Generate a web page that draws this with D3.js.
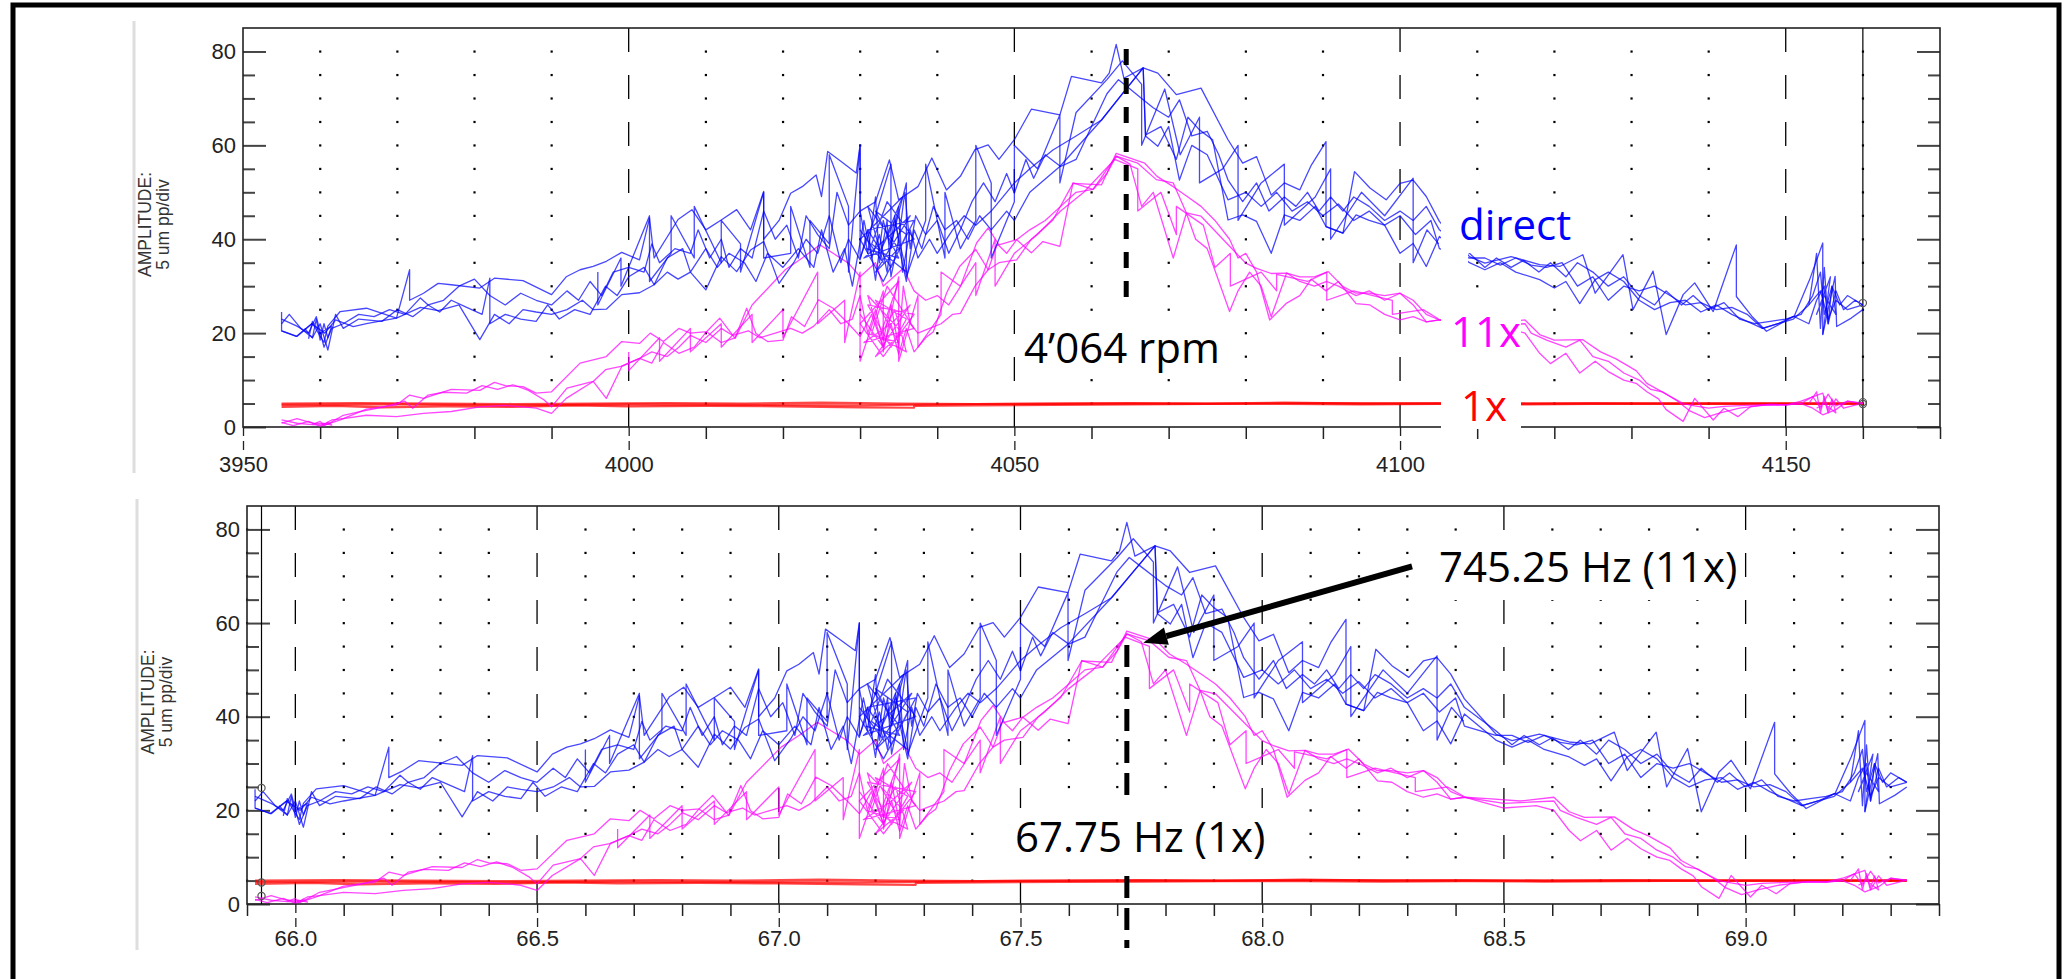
<!DOCTYPE html>
<html>
<head>
<meta charset="utf-8">
<script src="https://cdn.jsdelivr.net/npm/d3@7"></script>
<style>
  body { margin: 0; background: #fff; }
  svg { display: block; }
  .tick text { font-family: "Liberation Sans", Arial, sans-serif; font-size: 22px; fill: #222; }
  .ytitle { font-family: "Liberation Sans", Arial, sans-serif; font-size: 17.5px; fill: #333; }
  .note { font-family: "Open Sans", sans-serif; font-size: 42px; }
</style>
</head>
<body>
<svg id="chart" width="2065" height="979"></svg>
<script>
// axis ticks / domains
const ampTicks = [0, 20, 40, 60, 80];
const rpmTicks = [3950, 4000, 4050, 4100, 4150];
const hzTicks = [66.0, 66.5, 67.0, 67.5, 68.0, 68.5, 69.0];
const ampDomain = [0, 85];
const rpmDomain = [3950, 4170];
const hzDomain = [65.9, 69.4];

// cursors (end of sweep on top, start of sweep on bottom)
const rpmCursor = 4160;
const rpmCursorVals = [26.4, 5.3, 4.9];
const hzCursor = 65.93;
const hzCursorVals = [24.8, 4.6, 1.7];

// annotation values
const rpmMark = 4064.5;
const hzMark = 67.72;
const arrowFrom = [68.31, 72.1];
const arrowTo = [67.754, 55.8];

// traces: [rpm, amplitude]
const blue1 = [[3955,24.5],[3955,20.5],[3957,19.3],[3959,22.1],[3960.5,18],[3961,21.5],[3962.6,24.6],[3966,25.3],[3969.9,23.2],[3971.6,33.5],[3971.6,27],[3973.4,28.5],[3975.3,30.6],[3977,30.3],[3980.7,29.6],[3982.6,31.7],[3986.3,31.2],[3990,28.2],[3991.9,32],[3993.7,33.5],[3995.4,34.2],[3997.1,35.3],[3999.1,37.2],[4001.4,35.6],[4002.7,44.5],[4003.3,36],[4006.4,44.2],[4008.2,46.3],[4010,42],[4012,44.1],[4014,46.3],[4015.8,42],[4017.5,50.2],[4017.5,40],[4019.5,44],[4021,49.8],[4022.5,51.2],[4024.3,53.7],[4025,49.1],[4025.8,58.7],[4027.5,56.6],[4029.5,54.1],[4030,60.1],[4030,46],[4032,48],[4033.8,56.9],[4035,48.4],[4037.5,51.2],[4039.3,57.3],[4041.2,50.5],[4043,53.4],[4044.9,59.1],[4046.6,60.1],[4048,57],[4050,61.2],[4052.2,67.7],[4055.9,66.5],[4057.4,74.7],[4061.3,73.3],[4062.3,75.4],[4063.2,81.5],[4064.2,74.3],[4066.7,76.5],[4068.6,75.4],[4071,70.8],[4074.2,72.2],[4077.7,61.2],[4079.6,56.2],[4081.4,57.6],[4083.3,49.4],[4085,52],[4087,50.5],[4088.5,55.8],[4090.4,60.8],[4090.4,42.7],[4092.6,41.3],[4094.1,54.4],[4096.1,50.9],[4098.2,48.4],[4100,51.9],[4101.7,52.6],[4103.4,49.1],[4105.1,43.8],[4109,36.3],[4111,34.9],[4114.4,36.3],[4118.1,34.6],[4120.7,34.2],[4123.7,36.7],[4125.3,28.5],[4128.9,36.7],[4130.2,25],[4132.8,33.2],[4134.5,19.7],[4136.7,28.2],[4138.2,30.7],[4140.6,24.6],[4143.6,38.8],[4143.6,27.8],[4145.6,23.6],[4147.5,20.4],[4151.1,23.6],[4153.1,31.4],[4154.8,39.2],[4154.8,19.7],[4156.4,32.1],[4156.6,21.4],[4158.5,23.2],[4160,25]];
const blue2 = [[3955,20.5],[3956.9,19.3],[3958.9,22],[3960.6,20],[3962,22.8],[3964.3,21.4],[3966,22],[3969.9,23.2],[3973,25.5],[3975.3,24.8],[3978,26],[3980.7,18.6],[3982.6,24],[3984.5,22],[3986.3,25],[3988,24.5],[3990,24],[3992,25],[3994,27],[3995.4,25],[3997.1,25.1],[3999.1,28.2],[4001.4,28.6],[4003.3,30.3],[4005,33],[4006.4,31.5],[4008,33],[4010,29.2],[4012,36.3],[4014,33.1],[4015.8,37.7],[4017.5,39.5],[4019.5,30.6],[4021.5,35.3],[4023,40],[4024.5,37],[4026,45],[4027.5,35],[4028.5,40],[4030,35.6],[4031,42],[4032,31.3],[4033,44],[4034,38],[4035,47],[4035.5,33],[4036.5,42],[4037.5,36],[4039,40],[4040,37],[4042,42],[4043.5,45],[4045,43],[4047,46],[4049,50],[4050,52],[4052,55],[4055,59],[4058,62],[4061.3,65.4],[4064,71],[4066.7,76.5],[4067,62.2],[4069,64],[4071,57],[4072.5,66],[4074,63.3],[4075.7,61.2],[4077.7,44.1],[4079.6,45.2],[4081.4,43.8],[4083.3,37],[4085,45.2],[4087,44],[4089,47],[4090.4,42.7],[4092.6,41.3],[4094.3,45.2],[4096,44],[4098,43],[4100,37],[4101.7,39.1],[4103.4,34.2],[4105.1,40.6],[4109,35],[4111,33.5],[4113,35],[4115,33],[4118.1,31.4],[4120,29.6],[4121.5,31],[4123.3,26.3],[4125.3,31.4],[4127,33],[4129,31],[4131,27],[4133,25],[4135,26.5],[4137,27],[4139,24.5],[4141,26],[4143,24],[4145,22.5],[4147,21],[4149,22],[4151,23],[4153,26],[4154.5,29],[4155.5,23],[4156.5,27],[4158,25],[4160,26]];
const blue3 = [[3955,23],[3957,21.5],[3958.5,20],[3959.5,23.5],[3960.5,17],[3961.5,21],[3963,22],[3965,24],[3967,23.5],[3969,25],[3971,24],[3973,27.5],[3974,26],[3976,27],[3978,30],[3980,31.5],[3982,28],[3984,26],[3986,28.5],[3988,27],[3990,26],[3992,29],[3993.5,27],[3995,31],[3996.5,28],[3998,33],[4000,34],[4002,33],[4003,39],[4004,35],[4006,38],[4008,37],[4009,42],[4010.5,36],[4012,40],[4013,34],[4014.5,38],[4016,36],[4017.5,46],[4019,40],[4020.5,43],[4022,36],[4023,45],[4024.5,41],[4026,38],[4027,50],[4028.5,43],[4030,46],[4031,37],[4032,49],[4032.5,35],[4033.5,44],[4034,32],[4035,40],[4035.8,50],[4036.5,38],[4037.2,45],[4038.5,41],[4040,44],[4041.5,37],[4043,42],[4044.5,48],[4046,52],[4047.5,48],[4049,54],[4050,49.8],[4051.5,57],[4052.5,53],[4054,58],[4056,55.5],[4058,57],[4060,64],[4062,71],[4063.5,74],[4065,72],[4066.5,70],[4068,68],[4070,66],[4071.4,69.7],[4073,62],[4075,63],[4076.5,58],[4077.7,52.6],[4079.6,48],[4081.4,52],[4083,46],[4085,49],[4086.5,47],[4088,50],[4089.5,46],[4091,49],[4092.6,46],[4094,49],[4096,47],[4098,44],[4100,46],[4101.7,44],[4103.4,47],[4105.1,42],[4109,37],[4111,34],[4112.5,36],[4114.4,34],[4116,35.5],[4118,33],[4119.5,35],[4121.5,32],[4123,35],[4125,33],[4127,30],[4129,32],[4131,28],[4133,26],[4134.5,29],[4136.5,26],[4138,28],[4140,25],[4142,26.5],[4144,23],[4146,22],[4148,22.5],[4150,23],[4152,24],[4153.5,28],[4154.5,33],[4155,24],[4156,30],[4157,26],[4158,28],[4160,26]];
const blue4 = [[3955,22],[3956,24],[3957.5,21],[3959,19],[3960,22],[3961,16.4],[3962,24],[3963,21],[3965,23],[3968,22.5],[3970,25],[3972,23.5],[3974,26],[3975.5,24.5],[3977,27],[3979,25.5],[3981,24],[3982,31.7],[3982,22],[3984,24],[3986,23],[3988,22.5],[3989.5,26],[3991,23],[3993,25],[3995,24],[3997,30],[3998.5,28],[4000,32],[4002,34],[4003.3,30.3],[4005,36],[4007,38],[4008,33],[4010,38],[4011.5,34],[4013,37],[4015,35],[4016.5,31],[4018,37],[4020,34],[4022,38],[4024,34],[4025,42],[4026.5,33],[4028,38],[4029,30],[4030.5,44],[4031.5,36],[4032.5,41],[4033.5,33],[4034.5,45],[4035.2,37],[4036,31],[4037,42],[4038,38],[4039.5,47],[4041,42],[4042.5,44],[4044,40],[4045.5,45],[4047,42],[4049,46],[4050,44],[4052,50],[4055.9,55.5],[4061.3,65.4],[4066.7,76.5],[4067,62],[4068.6,59.8],[4070,64],[4071.4,52.6],[4073,60],[4075,58],[4077.7,48.4],[4080,50],[4082,47],[4084,50],[4086,46],[4088,48],[4090,45],[4092,47.5],[4094,44],[4096,46],[4098,43],[4100,45],[4102,41],[4104,44],[4105.1,38],[4109,36],[4111,36],[4113,34.5],[4115,36],[4117,34.5],[4119,34],[4121,35],[4123,30],[4125,32],[4127,27],[4129,30],[4131,29],[4133,30],[4135,28],[4137,26],[4139,26.5],[4141,25],[4143,25.5],[4145,24],[4147,21],[4149,22],[4151,23.6],[4153,22],[4154,27],[4155,30],[4155.5,22],[4156.5,29],[4157.5,25],[4159,27],[4160,26]];
const blue5 = [[3996,33],[3996,26],[3999,36],[3999,30],[4002.7,45],[4002.7,31],[4005.5,37],[4005.5,45],[4008.5,36],[4008.5,47],[4012,35],[4012,44],[4014.5,39],[4014.5,33],[4017.5,50],[4017.5,36],[4021,37],[4021,47],[4023.5,34],[4023.5,44],[4026,39],[4026,58],[4028.5,47],[4028.5,33],[4030,60],[4030,36],[4032,45],[4034,56],[4034,39],[4036,52],[4036,32],[4038.5,44],[4038.5,56],[4041,36],[4041,50],[4043,38],[4045,44],[4045,60],[4047,52],[4047,36],[4050,48],[4050,60],[4053,55],[4055.9,66.5],[4055.9,52],[4058,67],[4062,74],[4064,78],[4066.5,73],[4066.5,60],[4069.5,72],[4071.5,58],[4074,66],[4074,52],[4077,55],[4079,60],[4079,44],[4082,52],[4085,56],[4085,43],[4089,49],[4091,55],[4091,40],[4095,50],[4098,45],[4101.7,53],[4101.7,35],[4103.5,42],[4105,39]];
const blueKnotA = [[3958,21],[3959,19],[3959.5,23],[3960,18.5],[3960.5,22],[3961,19],[3961.5,21.5],[3960,20],[3959,22.5],[3958.5,18.8]];
const blueKnotB = [[4030,42],[4033,35],[4031,47],[4035,38],[4032,33],[4036.5,45],[4034,41],[4030.5,36],[4037,40],[4033.5,48],[4031.5,39],[4036,33],[4034.5,44],[4032.5,37],[4035.5,49],[4030,40],[4033,31],[4037,44],[4031,42],[4034,34],[4036,41],[4032,46],[4035,36],[4030.8,38]];
const blueKnotC = [[4153,26],[4154,37],[4154.5,21],[4155,34],[4155.5,22],[4156,30],[4156.5,24],[4155,28],[4154,24],[4155.8,32],[4154.8,19.7]];

const mag1 = [[3955,1.5],[3957,0.8],[3959,0.5],[3960.6,0.4],[3962.6,1.5],[3966,3.8],[3969.9,4.7],[3971.6,6.8],[3973.4,6.1],[3977,8],[3980.7,7.8],[3982.6,9.5],[3984,8.8],[3986.3,8.6],[3988,7.2],[3990,7.5],[3993.7,13.6],[3997.1,15],[3999.1,18.2],[4001.4,17.8],[4002.8,20],[4004.5,18.2],[4006.5,21],[4008,20],[4010.1,20.3],[4011.8,23.2],[4013.8,18.9],[4016,26],[4020.3,33.5],[4022.5,36],[4024.8,38.8],[4026.5,37],[4028.5,34.9],[4030,32],[4032,35],[4033,30],[4035.6,33.8],[4037,29],[4038.5,27],[4040,28],[4041.5,26],[4043,29.9],[4045.1,39.2],[4046.6,42.4],[4048,38.8],[4050.3,39.9],[4052.2,37.1],[4053.7,39.5],[4055.9,38.5],[4057.6,52],[4060.2,50.6],[4063.2,57.7],[4066,56.2],[4068.4,52.7],[4070.6,52],[4072.3,45.6],[4074.2,44.9],[4077.9,38.5],[4080,34.9],[4081.4,33.8],[4083.3,32.7],[4085.3,32.8],[4087,32],[4088.9,32],[4090.7,33.1],[4092.6,29.9],[4094.3,28.5],[4096,28.5],[4098,28],[4100,28.5],[4101.7,27],[4103.4,24],[4105.1,22.8],[4108,22.5],[4112,22],[4116.2,22.8],[4118.1,19.7],[4120,18.5],[4123.7,18.6],[4126,16],[4128,14.5],[4130.6,12],[4132,9.3],[4134.5,7],[4136.7,5],[4138.2,4.5],[4140,4],[4142,4.4],[4145,4.6],[4148,4.8],[4150.1,4.7],[4152,5.5],[4154.8,7.2],[4155.5,3],[4156.5,6],[4157.5,4],[4160,5.1]];
const mag2 = [[3955,1],[3956.5,0.3],[3958.5,1.2],[3960,0.2],[3961.5,1.5],[3963,1.8],[3966,2.5],[3969.9,2.2],[3973.4,2.9],[3977,3.3],[3980.7,4.3],[3984,4.6],[3986.3,4.3],[3988,4],[3990,2.9],[3991.9,6.1],[3995.4,9.7],[3997.1,6.1],[3999.1,12.9],[4001.4,14.6],[4003,13.6],[4004.5,18],[4006.5,15.7],[4008.5,17],[4010.1,20.3],[4012,18],[4013.8,19],[4015.3,25.3],[4016.5,19.9],[4018,18.2],[4020,18.5],[4021.1,23.5],[4022.8,21.4],[4024.6,27.1],[4026.5,25.3],[4028.5,22],[4030,19.3],[4031.5,24],[4033,17],[4034,22],[4035,15.5],[4036,21],[4037,16],[4038.5,19],[4039.5,20.3],[4041.2,28.5],[4042.9,34.2],[4045,37.8],[4046.6,33.5],[4048,35],[4050.3,35.6],[4052.2,40],[4055,44.1],[4057.6,51.9],[4061.3,51.6],[4063.2,58.3],[4066.9,56.2],[4068.5,53.4],[4070.6,51.2],[4072.5,49],[4074.2,47],[4076,44],[4077.9,40],[4079,36],[4080,37],[4081.4,33],[4083.1,22.8],[4085.3,26.4],[4087,28],[4088.5,31.5],[4090.4,29],[4092,31],[4094.3,26.3],[4096.1,26],[4098,24],[4100,22.8],[4101.7,23.5],[4103.4,22.4],[4105.1,22.8],[4110,20.5],[4114,21],[4116.2,20],[4118.1,15.7],[4119.5,13.5],[4121.5,15.7],[4123.3,11.5],[4125.3,14],[4127,11.8],[4129,10],[4130.6,9.3],[4132,7.5],[4133.5,6],[4134.5,3.7],[4136.7,1.2],[4138.2,6.1],[4140.6,1.5],[4142,4],[4143.8,2.2],[4145.5,4.4],[4148,4.8],[4150,4.7],[4152,5],[4153.5,4],[4154.8,2.6],[4156.5,3.7],[4158,5.5],[4160,5]];
const mag3 = [[3955,0.8],[3957,1.8],[3959,0.8],[3961,0.6],[3963,2.5],[3965,3.2],[3968,4.2],[3971,5.5],[3972,4],[3974,6.8],[3976,7.4],[3979,7.2],[3981,8.8],[3983,8],[3985,9],[3987,7.8],[3989,5.8],[3990,4.3],[3992,8.3],[3995.4,9.7],[3997,12.2],[3999,12.9],[4001.4,14.6],[4003,16],[4005,15],[4006.5,17],[4008,19.5],[4010,18],[4012,21],[4013.5,19.5],[4015.5,20.5],[4017,19],[4019,20],[4021,21],[4022.5,20],[4024,21.5],[4026,25],[4027.5,22],[4029,23],[4030,28],[4031,20],[4032,25],[4033,18.5],[4034,26],[4035,17],[4035.6,30],[4036.5,22],[4037.5,20],[4039,21],[4040.5,22],[4042,24],[4043,24.2],[4044.9,30],[4046.6,33.5],[4047.8,39],[4049,37],[4050.3,39.9],[4052,42],[4054,44],[4056,47],[4058,50],[4060.2,50.6],[4062,54],[4063.2,57.7],[4065,56],[4066.5,47],[4068,50],[4070.6,36],[4072.3,45.6],[4073.5,40],[4075,38],[4077.9,24.6],[4079,29],[4080.5,33],[4082,30],[4083.3,23.5],[4085.3,32.8],[4087,31],[4088.9,30],[4090.5,31],[4092,30],[4094.3,28],[4096,29],[4098,27],[4100,28.5],[4101.7,26],[4103.4,22.4],[4105.1,22.8],[4110,21.5],[4116.2,22],[4117,20],[4119,18.5],[4121.5,17],[4123.3,18.5],[4125,15],[4127,14],[4129,11.5],[4131,10],[4132.5,8],[4134,7.5],[4136,5.5],[4137.5,3.5],[4139.5,2],[4141.5,3],[4144,4],[4147,4.6],[4150,4.7],[4152,5],[4153.5,6.5],[4154.5,4],[4155.5,7],[4156.5,4.5],[4158,5.5],[4160,5.1]];
const mag4 = [[4000,16],[4000,12],[4004,19],[4004,14],[4008,21],[4008,16],[4012,22],[4012,17],[4016,24],[4016,18],[4020,25],[4020,19],[4024.5,33],[4024.5,22],[4028,27],[4028,18],[4030,33],[4030,14],[4033,29],[4033,16],[4035,32],[4035,14],[4037.5,28],[4037.5,17],[4040.5,24],[4040.5,33],[4043,30],[4045,35],[4045,28],[4047.5,40],[4047.5,30],[4050,37],[4053,41],[4056,46],[4059,50],[4063,57],[4066,55],[4066,46],[4069,50],[4071,41],[4071,47],[4074.5,43],[4076,34],[4078,37],[4078,30],[4082,33],[4084,29],[4084,32.5],[4088,31],[4090.5,33],[4090.5,27],[4094,29],[4099,27],[4099,24],[4103,25],[4105,23]];
const magKnotA = [[3959,0.5],[3960,1.2],[3960.5,0.2],[3961,1],[3961.5,0.4],[3960.2,0.9]];
const magKnotB = [[4030,24],[4033,17],[4031,28],[4035.5,20],[4032,15],[4036.5,26],[4034,22],[4030.5,18],[4037,21],[4033.5,30],[4031.5,20],[4036,16],[4034.5,25],[4032.5,19],[4035,31],[4030,22],[4033,15],[4037,24],[4031,26],[4034,17],[4036,23],[4032,27],[4035,18],[4030.8,20]];
const magKnotC = [[4153,5],[4154,7.5],[4154.5,3],[4155,6.5],[4155.5,3.5],[4156,6],[4156.5,3],[4155,5],[4154,4]];

const red1 = [[3955,5],[3965,5.1],[3975,5],[3985,4.9],[3995,5],[4005,5.1],[4015,5],[4025,5.2],[4035,5],[4045,4.9],[4055,5],[4065,5.1],[4075,5],[4085,5.2],[4095,5],[4105,5.1],[4115,5],[4125,5.1],[4135,5],[4145,5],[4155,5],[4160,5]];
const red2 = [[3955,4.3],[3962,4.5],[3968,4.2],[3976,4.4],[3985,4.3],[3993,4.6],[4000,4.4],[4010,4.5],[4020,4.4],[4030,4.2],[4037,4.1],[4037,4.5],[4045,4.6],[4055,4.7],[4065,4.8],[4075,4.9],[4085,4.9],[4095,4.8],[4105,4.9],[4115,4.8],[4125,4.9],[4135,5],[4145,5],[4155,5],[4160,5]];
const red3 = [[3955,4.7],[3970,4.8],[3985,4.6],[4000,4.8],[4015,4.7],[4030,4.6],[4045,4.9],[4060,5],[4075,5],[4090,5.1],[4105,5],[4120,5],[4140,5],[4160,5]];

const series = [
  { color: '#ff0000', width: 2.2, traces: [red1, red2, red3] },
  { color: '#ff00ff', width: 1.3, traces: [mag1, mag2, mag3, mag4, magKnotA, magKnotB, magKnotC] },
  { color: '#0000ff', width: 1.3, traces: [blue1, blue2, blue3, blue4, blue5, blueKnotA, blueKnotB, blueKnotC] },
];

const svg = d3.select('#chart');

// outer black frame
svg.append('rect')
  .attr('x', 13).attr('y', 5).attr('width', 2046).attr('height', 1000)
  .attr('fill', 'none').attr('stroke', '#000').attr('stroke-width', 5);

function drawPanel(p) {
  const g = svg.append('g');
  const x = d3.scaleLinear().domain(p.xDomain).range([p.left, p.right]);
  const y = d3.scaleLinear().domain(ampDomain).range([p.bottom, p.top]);
  const isMajor = (v) => p.majorX.some((m) => Math.abs(m - v) < 1e-6);

  // light grey bar on the left
  g.append('line')
    .attr('x1', p.strip).attr('x2', p.strip)
    .attr('y1', p.top - 7).attr('y2', p.bottom + 46)
    .attr('stroke', '#dedede').attr('stroke-width', 3);

  // dotted grid
  const dots = [];
  p.minorX.filter((v) => !isMajor(v) && v < p.xDomain[1] - 1e-6).forEach((v) => {
    d3.range(5, 81, 5).forEach((r) => dots.push([v, r]));
  });
  g.append('g').selectAll('rect').data(dots).join('rect')
    .attr('x', (d) => x(d[0]) - 1).attr('y', (d) => y(d[1]) - 1)
    .attr('width', 2.2).attr('height', 2.2).attr('fill', '#000');

  // dashed major grid lines
  g.append('g').selectAll('line')
    .data(p.majorX.filter((v) => v > p.xDomain[0] + 1e-6))
    .join('line')
    .attr('x1', (d) => x(d)).attr('x2', (d) => x(d))
    .attr('y1', p.top).attr('y2', p.bottom)
    .attr('stroke', '#000').attr('stroke-width', 1.3)
    .attr('stroke-dasharray', '24,23');

  // axes
  const axisColor = '#444';
  const minorAmp = d3.range(5, 85, 5).filter((v) => !ampTicks.includes(v));
  g.append('g').attr('transform', `translate(${p.left},0)`)
    .call(d3.axisLeft(y).tickValues(ampTicks).tickSize(-23).tickPadding(7))
    .call((s) => s.select('.domain').remove())
    .attr('color', axisColor).selectAll('.tick line').attr('stroke-width', 2);
  g.append('g').attr('transform', `translate(${p.left},0)`)
    .call(d3.axisLeft(y).tickValues(minorAmp).tickSize(-12).tickFormat(''))
    .call((s) => s.select('.domain').remove())
    .attr('color', axisColor).selectAll('.tick line').attr('stroke-width', 2);
  g.append('g').attr('transform', `translate(${p.right},0)`)
    .call(d3.axisRight(y).tickValues(ampTicks).tickSize(-23).tickFormat(''))
    .call((s) => s.select('.domain').remove())
    .attr('color', axisColor).selectAll('.tick line').attr('stroke-width', 2);
  g.append('g').attr('transform', `translate(${p.right},0)`)
    .call(d3.axisRight(y).tickValues(minorAmp).tickSize(-12).tickFormat(''))
    .call((s) => s.select('.domain').remove())
    .attr('color', axisColor).selectAll('.tick line').attr('stroke-width', 2);

  g.append('g').attr('transform', `translate(0,${p.bottom})`)
    .call(d3.axisBottom(x).tickValues(p.minorX.filter((v) => !isMajor(v))).tickSize(12).tickFormat(''))
    .call((s) => s.select('.domain').remove())
    .attr('color', '#222').selectAll('.tick line').attr('stroke-width', 1.5);
  g.append('g').attr('transform', `translate(0,${p.bottom})`)
    .call(d3.axisBottom(x).tickValues(p.majorX).tickSize(23).tickPadding(p.labelPad).tickFormat(p.fmt))
    .call((s) => s.select('.domain').remove())
    .attr('color', '#222')
    .selectAll('.tick line').attr('stroke-width', 1.3).attr('stroke-dasharray', '9,5');

  // plot frame
  g.append('rect')
    .attr('x', p.left).attr('y', p.top)
    .attr('width', p.right - p.left).attr('height', p.bottom - p.top)
    .attr('fill', 'none').attr('stroke', '#222').attr('stroke-width', 1.6);

  // cursor line
  g.append('line')
    .attr('x1', x(p.cursor)).attr('x2', x(p.cursor))
    .attr('y1', p.top).attr('y2', p.bottom)
    .attr('stroke', '#000').attr('stroke-width', 1.2);

  // y title
  const ty = (p.top + p.bottom) / 2 - 3;
  g.append('text').attr('class', 'ytitle')
    .attr('transform', `translate(${p.strip + 17},${ty}) rotate(-90)`)
    .attr('text-anchor', 'middle').text('AMPLITUDE:');
  g.append('text').attr('class', 'ytitle')
    .attr('transform', `translate(${p.strip + 35},${ty}) rotate(-90)`)
    .attr('text-anchor', 'middle').text('5 um pp/div');

  // data
  const clipId = 'clip' + p.id;
  svg.append('clipPath').attr('id', clipId).append('rect')
    .attr('x', p.left).attr('y', p.top)
    .attr('width', p.right - p.left).attr('height', p.bottom - p.top);
  const line = d3.line().x((d) => x(p.toX(d[0]))).y((d) => y(d[1]));
  const dg = g.append('g').attr('clip-path', `url(#${clipId})`);
  series.forEach((s) => {
    dg.append('g').selectAll('path').data(s.traces).join('path')
      .attr('d', line)
      .attr('fill', 'none').attr('stroke', s.color)
      .attr('stroke-width', s.width).attr('stroke-opacity', 0.72)
      .attr('stroke-linejoin', 'round');
  });

  // cursor markers
  g.append('g').selectAll('circle').data(p.cursorVals).join('circle')
    .attr('cx', x(p.cursor)).attr('cy', (d) => y(d)).attr('r', 3.6)
    .attr('fill', 'none').attr('stroke', '#555').attr('stroke-width', 1.2);

  return { g, x, y };
}

const topPanel = drawPanel({
  id: 'top', left: 243, right: 1940, top: 28, bottom: 427, strip: 134,
  xDomain: rpmDomain, majorX: rpmTicks, minorX: d3.range(3960, 4171, 10),
  fmt: d3.format('d'), labelPad: 6, toX: (r) => r,
  cursor: rpmCursor, cursorVals: rpmCursorVals,
});

const bottomPanel = drawPanel({
  id: 'bot', left: 247, right: 1939, top: 506, bottom: 904, strip: 137,
  xDomain: hzDomain, majorX: hzTicks, minorX: d3.range(659, 695).map((v) => v / 10),
  fmt: d3.format('.1f'), labelPad: 3, toX: (r) => r / 60,
  cursor: hzCursor, cursorVals: hzCursorVals,
});

// white label boxes over the top panel
const boxes = [[1441, 195, 139, 58], [1441, 120, 27, 170], [1441, 290, 80, 139], [1020, 328, 206, 44]];
topPanel.g.append('g').selectAll('rect').data(boxes).join('rect')
  .attr('x', (d) => d[0]).attr('y', (d) => d[1])
  .attr('width', (d) => d[2]).attr('height', (d) => d[3])
  .attr('fill', '#fff');

topPanel.g.append('line')
  .attr('x1', topPanel.x(rpmMark)).attr('x2', topPanel.x(rpmMark))
  .attr('y1', 49).attr('y2', 306)
  .attr('stroke', '#000').attr('stroke-width', 5).attr('stroke-dasharray', '16,13');

const topNotes = [
  { t: 'direct', x: 1459, y: 240, c: '#0000ff' },
  { t: '11x', x: 1451, y: 347, c: '#ff00ff' },
  { t: '1x', x: 1461, y: 421, c: '#ff0000' },
  { t: '4\u2019064 rpm', x: 1024, y: 363, c: '#000' },
];
topPanel.g.append('g').selectAll('text').data(topNotes).join('text')
  .attr('class', 'note').attr('x', (d) => d.x).attr('y', (d) => d.y)
  .attr('fill', (d) => d.c).text((d) => d.t);

// bottom annotations: label boxes, then the dashed marker in two pieces around the label
bottomPanel.g.append('g').selectAll('rect').data([[1010, 808, 262, 64], [1435, 545, 306, 55]]).join('rect')
  .attr('x', (d) => d[0]).attr('y', (d) => d[1])
  .attr('width', (d) => d[2]).attr('height', (d) => d[3])
  .attr('fill', '#fff');

bottomPanel.g.append('g').selectAll('line').data([[645, 800], [876, 948]]).join('line')
  .attr('x1', bottomPanel.x(hzMark)).attr('x2', bottomPanel.x(hzMark))
  .attr('y1', (d) => d[0]).attr('y2', (d) => d[1])
  .attr('stroke', '#000').attr('stroke-width', 5).attr('stroke-dasharray', '22,10');

// arrow
const ax0 = bottomPanel.x(arrowFrom[0]), ay0 = bottomPanel.y(arrowFrom[1]);
const ax1 = bottomPanel.x(arrowTo[0]), ay1 = bottomPanel.y(arrowTo[1]);
const ang = Math.atan2(ay1 - ay0, ax1 - ax0);
const headLen = 24, headHalf = 9;
const bx = ax1 - headLen * Math.cos(ang), by = ay1 - headLen * Math.sin(ang);
bottomPanel.g.append('line')
  .attr('x1', ax0).attr('y1', ay0).attr('x2', bx).attr('y2', by)
  .attr('stroke', '#000').attr('stroke-width', 6);
bottomPanel.g.append('path')
  .attr('d', d3.line()([
    [ax1, ay1],
    [bx + headHalf * Math.sin(ang), by - headHalf * Math.cos(ang)],
    [bx - headHalf * Math.sin(ang), by + headHalf * Math.cos(ang)],
  ]) + 'Z')
  .attr('fill', '#000');

const bottomNotes = [
  { t: '745.25 Hz (11x)', x: 1439, y: 582 },
  { t: '67.75 Hz (1x)', x: 1015, y: 852 },
];
bottomPanel.g.append('g').selectAll('text').data(bottomNotes).join('text')
  .attr('class', 'note').attr('x', (d) => d.x).attr('y', (d) => d.y)
  .attr('fill', '#000').text((d) => d.t);
</script>
</body>
</html>
